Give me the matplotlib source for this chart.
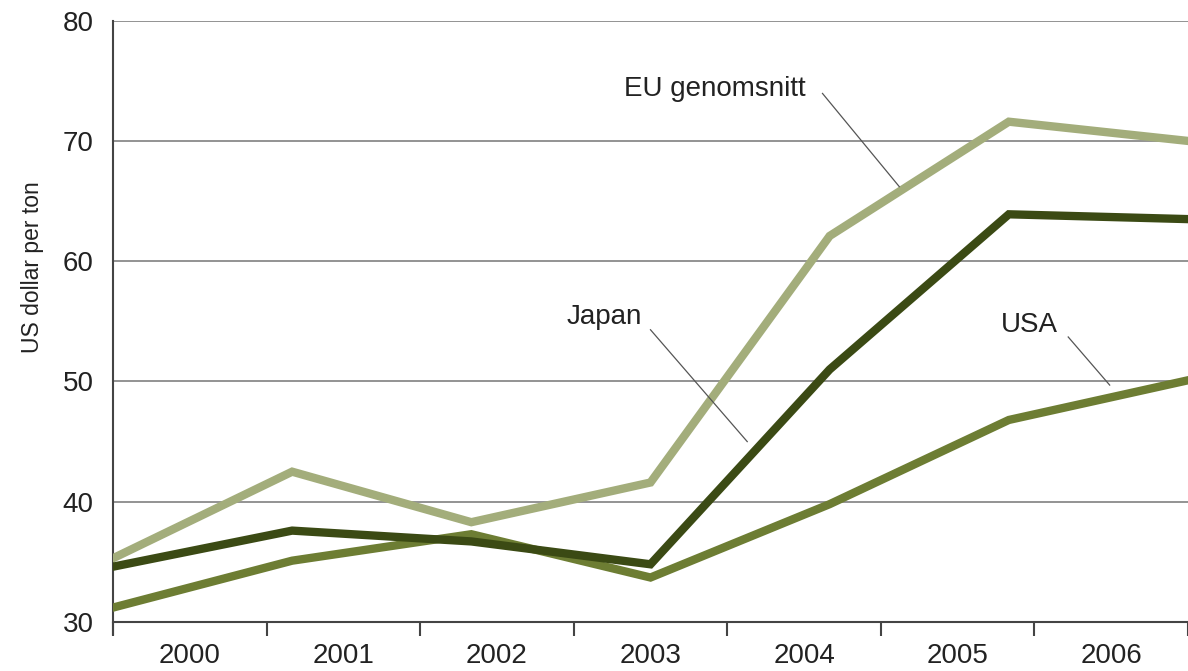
import numpy as np
import matplotlib
matplotlib.use("Agg")
import matplotlib.pyplot as plt

plt.rcParams['font.family'] = ['Liberation Sans', 'DejaVu Sans']

years = ['2000', '2001', '2002', '2003', '2004', '2005', '2006']
eu = [35.3, 42.5, 38.3, 41.6, 62.1, 71.6, 70.0]
japan = [34.6, 37.6, 36.7, 34.8, 51.0, 63.9, 63.5]
usa = [31.2, 35.1, 37.3, 33.7, 39.8, 46.8, 50.1]

c_eu = '#a3ad7b'
c_jp = '#3b4a14'
c_us = '#6d7d33'

fig = plt.figure(figsize=(11.88, 6.71), dpi=100)
ax = fig.add_axes([0.0951, 0.073, 0.9049, 0.8962])

n = len(years)
# points are spread evenly over the whole axis width, labels sit in bands
xs = np.linspace(0, n, n)

ax.plot(xs, eu, color=c_eu, lw=6, solid_joinstyle='miter', zorder=3)
ax.plot(xs, usa, color=c_us, lw=6, solid_joinstyle='miter', zorder=3)
ax.plot(xs, japan, color=c_jp, lw=6, solid_joinstyle='miter', zorder=4)

ax.set_xlim(0, n)
ax.set_ylim(30, 80)
ax.set_yticks([30, 40, 50, 60, 70, 80])
ax.grid(axis='y', color='#8a8a8a', lw=1.3, zorder=1)
ax.tick_params(axis='y', length=0, pad=14, labelsize=20, labelcolor='#222222')

ax.set_xticks(np.arange(0, n + 1))
ax.set_xticklabels([])
ax.set_xticks(np.arange(n) + 0.5, minor=True)
ax.set_xticklabels(years, minor=True)
ax.tick_params(axis='x', which='major', length=10, width=1.5, color='#444444', direction='out')
ax.tick_params(axis='x', which='minor', length=0, pad=15, labelsize=20, labelcolor='#222222')

for s in ['top', 'right']:
    ax.spines[s].set_visible(False)
ax.spines['left'].set_color('#444444')
ax.spines['bottom'].set_color('#444444')
ax.spines['left'].set_linewidth(1.5)
ax.spines['bottom'].set_linewidth(1.5)
ax.spines['left'].set_bounds(29.0, 80)

ax.set_ylabel('US dollar per ton', fontsize=16.5, color='#222222')
ax.yaxis.set_label_coords(-0.064, 0.59)

# labels with leader lines
labels = [
    ('EU genomsnitt', (3.92, 74.3), (4.62, 73.95), (5.12, 66.2)),
    ('Japan', (3.20, 55.35), (3.50, 54.3), (4.13, 45.0)),
    ('USA', (5.97, 54.7), (6.22, 53.7), (6.49, 49.7)),
]
for txt, pos, p0, p1 in labels:
    ax.text(pos[0], pos[1], txt, fontsize=20, color='#222222', ha='center', va='center', zorder=5)
    ax.plot([p0[0], p1[0]], [p0[1], p1[1]], color='#555555', lw=0.9, zorder=5)

fig.savefig('out.png', dpi=100)
